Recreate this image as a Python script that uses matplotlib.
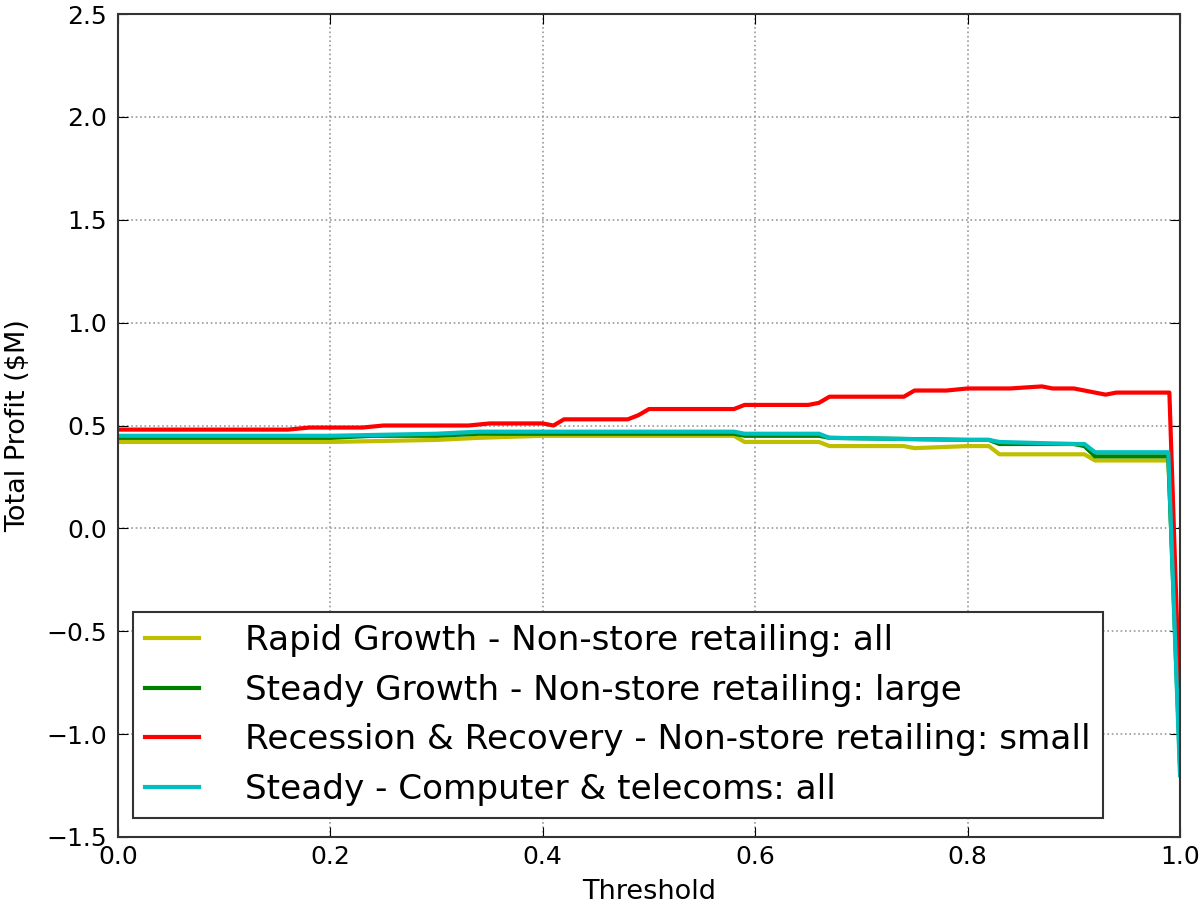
import numpy as np
import matplotlib
matplotlib.use('Agg')
import matplotlib.pyplot as plt

# seuils et profits
x_rapid = [0.0, 0.10, 0.20, 0.30, 0.34, 0.40, 0.50, 0.58, 0.59, 0.66, 0.67, 0.74, 0.75, 0.80, 0.82, 0.83, 0.90, 0.91, 0.92, 0.989, 1.0]
y_rapid = [0.42, 0.42, 0.42, 0.43, 0.44, 0.45, 0.45, 0.45, 0.42, 0.42, 0.40, 0.40, 0.39, 0.40, 0.40, 0.36, 0.36, 0.36, 0.33, 0.33, -1.0]

x_steady_g = [0.0, 0.10, 0.20, 0.24, 0.30, 0.34, 0.40, 0.50, 0.58, 0.59, 0.66, 0.67, 0.80, 0.82, 0.83, 0.90, 0.91, 0.92, 0.989, 1.0]
y_steady_g = [0.44, 0.44, 0.44, 0.45, 0.45, 0.46, 0.46, 0.46, 0.46, 0.45, 0.45, 0.44, 0.43, 0.43, 0.41, 0.41, 0.40, 0.35, 0.35, -1.15]

x_recess = [0.0, 0.08, 0.16, 0.18, 0.23, 0.25, 0.27, 0.33, 0.35, 0.40, 0.41, 0.42, 0.45, 0.48, 0.49, 0.50, 0.58, 0.59, 0.65, 0.66, 0.67, 0.74, 0.75, 0.78, 0.80, 0.82, 0.84, 0.87, 0.88, 0.90, 0.91, 0.93, 0.94, 0.99, 1.0]
y_recess = [0.48, 0.48, 0.48, 0.49, 0.49, 0.50, 0.50, 0.50, 0.51, 0.51, 0.50, 0.53, 0.53, 0.53, 0.55, 0.58, 0.58, 0.60, 0.60, 0.61, 0.64, 0.64, 0.67, 0.67, 0.68, 0.68, 0.68, 0.69, 0.68, 0.68, 0.67, 0.65, 0.66, 0.66, -0.9]

x_comp = [0.0, 0.10, 0.20, 0.30, 0.34, 0.40, 0.50, 0.58, 0.59, 0.66, 0.67, 0.80, 0.82, 0.83, 0.90, 0.91, 0.92, 0.989, 1.0]
y_comp = [0.45, 0.45, 0.45, 0.46, 0.47, 0.47, 0.47, 0.47, 0.46, 0.46, 0.44, 0.43, 0.43, 0.42, 0.41, 0.41, 0.37, 0.37, -1.2]

labels = ["Rapid Growth - Non-store retailing: all",
          "Steady Growth - Non-store retailing: large",
          "Recession & Recovery - Non-store retailing: small",
          "Steady - Computer & telecoms: all"]

fig = plt.figure(figsize=(12, 9.06), dpi=100)
ax = fig.add_axes([118/1200, 69/906, 1062/1200, 823/906])

ax.plot(x_rapid, y_rapid, color='#bfbf00', lw=3, label=labels[0])
ax.plot(x_steady_g, y_steady_g, color='#008000', lw=3, label=labels[1])
ax.plot(x_recess, y_recess, color='#ff0000', lw=3, label=labels[2])
ax.plot(x_comp, y_comp, color='#00bfbf', lw=3, label=labels[3])

ax.set_xlim(0, 1.0)
ax.set_ylim(-1.5, 2.5)
ax.set_xticks(np.arange(0, 1.01, 0.2))
ax.set_yticks(np.arange(-1.5, 2.51, 0.5))
ax.set_xticklabels(['0.0', '0.2', '0.4', '0.6', '0.8', '1.0'])
ax.set_yticklabels(['\u22121.5', '\u22121.0', '\u22120.5', '0.0', '0.5', '1.0', '1.5', '2.0', '2.5'])
ax.tick_params(labelsize=18, direction='in', length=7, top=True, right=True)
ax.tick_params(axis='y', pad=8)
ax.tick_params(axis='x', pad=6)
ax.grid(True, linestyle=':', color='#999999', lw=1.2)
for s in ax.spines.values():
    s.set_linewidth(1.5)
    s.set_color('#333333')
ax.set_xlabel("Threshold", fontsize=19.5, labelpad=7)
ax.set_ylabel("Total Profit ($M)", fontsize=19.5, labelpad=11)

leg = ax.legend(loc='lower left', bbox_to_anchor=(15/1062, 19/823), borderaxespad=0,
                fontsize=24.7, fancybox=False, framealpha=1, edgecolor='#333333',
                borderpad=0.36, labelspacing=0.48, handlelength=1.56, handletextpad=1.35)
leg.get_frame().set_linewidth(1.5)

plt.savefig('out.png', dpi=100)
